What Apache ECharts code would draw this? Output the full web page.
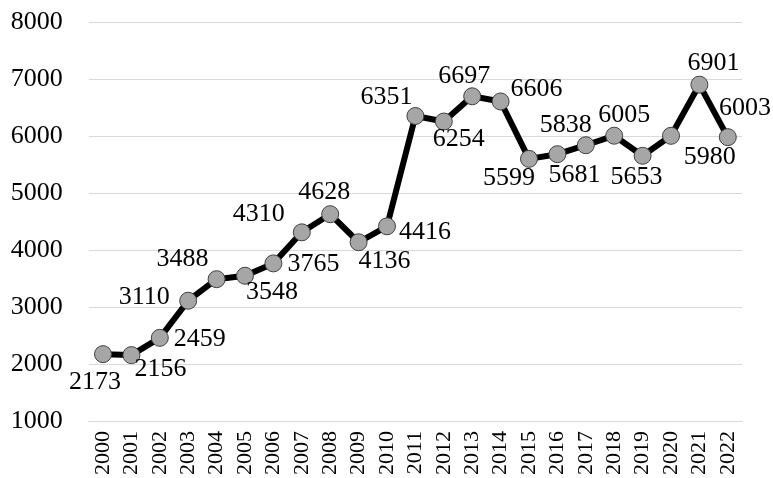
<!DOCTYPE html>
<html>
<head>
<meta charset="utf-8">
<script src="https://cdn.jsdelivr.net/npm/echarts@6/dist/echarts.min.js"></script>
<style>html,body{margin:0;padding:0;background:#fff}#c{width:773px;height:478px}</style>
</head>
<body>
<div id="c"></div>
<script>
const years = ['2000','2001','2002','2003','2004','2005','2006','2007','2008','2009','2010','2011','2012','2013','2014','2015','2016','2017','2018','2019','2020','2021','2022'];
const values = [2173,2156,2459,3110,3488,3548,3765,4310,4628,4136,4416,6351,6254,6697,6606,5599,5681,5838,6005,5653,6003,6901,5980];
const yTicks = {min:1000, max:8000, interval:1000};

// label placement (pixel offsets from point centre), styling only
const labelOffsets = [[-8,28],[29,14],[40,1],[-44,-4],[-34,-20],[27,16],[40,1],[-43,-18],[-6,-22],[26,19],[38,6],[-29,-19],[15,18],[-8,-20],[36,-12],[-20,19],[17,21],[-20,-20],[10,-21],[-6,21],[74,-28],[14,-21],[-18,20]];

const FONT = '"Liberation Serif","DejaVu Serif",serif';
const chart = echarts.init(document.getElementById('c'));
chart.setOption({
  animation:false,
  grid:{left:88.8,right:31,top:22,bottom:56},
  xAxis:{type:'category',data:years,boundaryGap:true,
    axisLine:{show:true,lineStyle:{color:'#d9d9d9',width:1}},
    axisTick:{show:false},
    axisLabel:{rotate:90,fontFamily:FONT,fontSize:22,color:'#000',margin:10,interval:0}},
  yAxis:{type:'value',min:yTicks.min,max:yTicks.max,interval:yTicks.interval,
    axisLine:{show:false},axisTick:{show:false},
    splitLine:{lineStyle:{color:'#d9d9d9',width:1}},
    axisLabel:{fontFamily:FONT,fontSize:26,color:'#000',margin:26,formatter:v=>String(v)}},
  series:[{type:'line',
    data:values.map((v,i)=>({value:v,label:{offset:labelOffsets[i]}})),
    lineStyle:{color:'#000',width:6},
    symbol:'circle',symbolSize:17,
    itemStyle:{color:'#a6a6a6',borderColor:'#404040',borderWidth:1},
    label:{show:true,position:'inside',fontFamily:FONT,fontSize:26,color:'#000',
      formatter:p=>String(p.value)}
  }]
});
</script>
</body>
</html>
